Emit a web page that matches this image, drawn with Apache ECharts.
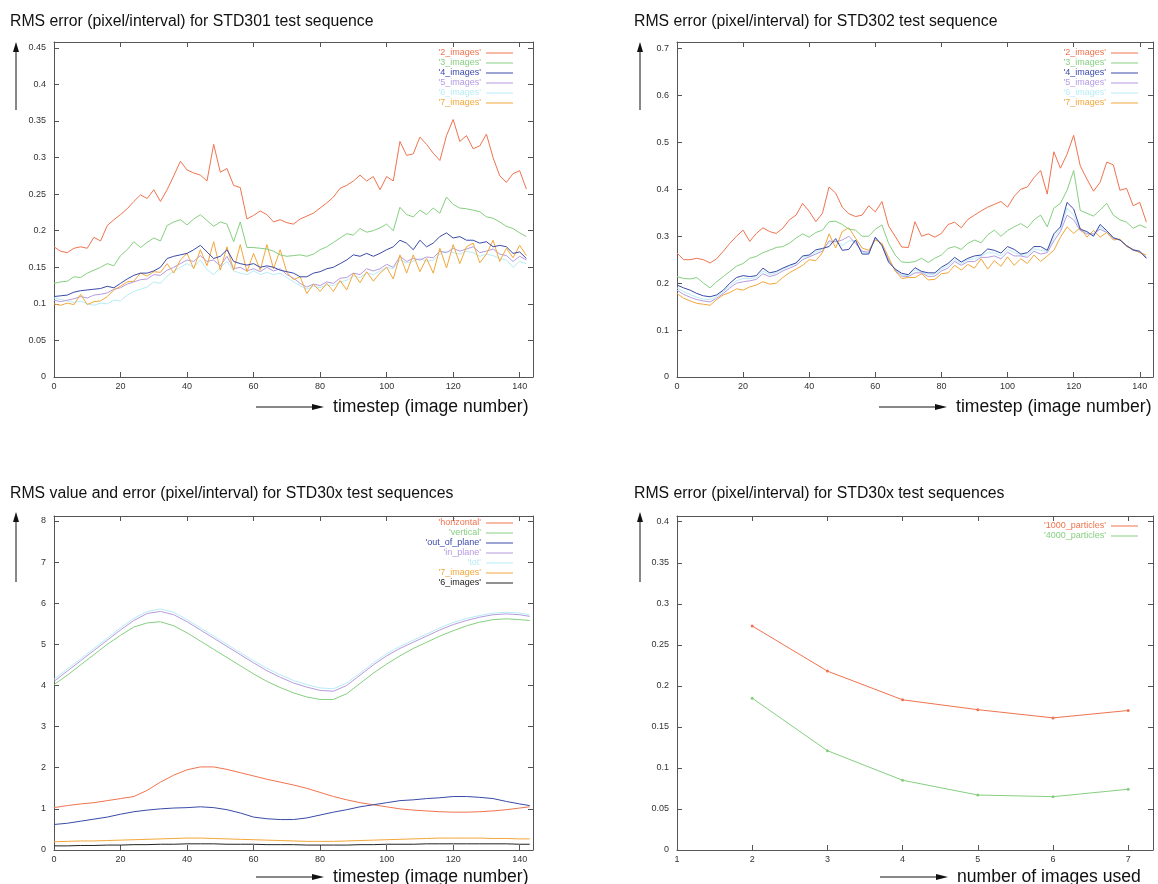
<!DOCTYPE html>
<html><head><meta charset="utf-8">
<script src="https://cdn.jsdelivr.net/npm/echarts@6/dist/echarts.min.js"></script>
<style>html,body{margin:0;padding:0;background:#fff}#c{width:1158px;height:884px}</style>
</head><body><div id="c"></div>
<script>
// ---- DATA ----
const steps = [0,2,4,6,8,10,12,14,16,18,20,22,24,26,28,30,32,34,36,38,40,42,44,46,48,50,52,54,56,58,60,62,64,66,68,70,72,74,76,78,80,82,84,86,88,90,92,94,96,98,100,102,104,106,108,110,112,114,116,118,120,122,124,126,128,130,132,134,136,138,140,142];
const seriesNamesA = ["'2_images'","'3_images'","'4_images'","'5_images'","'6_images'","'7_images'"];
// STD301
const s301_2 = [0.178,0.172,0.170,0.176,0.178,0.176,0.191,0.186,0.207,0.215,0.222,0.230,0.240,0.249,0.244,0.256,0.240,0.256,0.275,0.295,0.283,0.279,0.276,0.268,0.318,0.280,0.285,0.262,0.259,0.216,0.221,0.227,0.222,0.212,0.215,0.211,0.209,0.216,0.220,0.224,0.231,0.238,0.246,0.258,0.262,0.268,0.276,0.268,0.274,0.256,0.274,0.268,0.322,0.303,0.305,0.328,0.318,0.306,0.296,0.330,0.352,0.322,0.330,0.312,0.316,0.332,0.300,0.275,0.266,0.278,0.282,0.257];
const s301_3 = [0.128,0.130,0.131,0.137,0.136,0.142,0.146,0.150,0.155,0.152,0.166,0.174,0.185,0.177,0.184,0.190,0.186,0.207,0.212,0.215,0.208,0.216,0.222,0.214,0.206,0.212,0.209,0.185,0.212,0.177,0.177,0.176,0.175,0.172,0.167,0.165,0.166,0.167,0.165,0.168,0.174,0.178,0.184,0.190,0.196,0.194,0.203,0.198,0.200,0.204,0.209,0.200,0.232,0.222,0.219,0.228,0.222,0.231,0.224,0.246,0.236,0.231,0.230,0.228,0.226,0.219,0.217,0.212,0.206,0.203,0.197,0.192];
const s301_4 = [0.110,0.111,0.112,0.116,0.118,0.119,0.120,0.121,0.124,0.122,0.128,0.134,0.139,0.142,0.142,0.145,0.150,0.162,0.165,0.167,0.169,0.174,0.180,0.171,0.162,0.165,0.174,0.158,0.155,0.153,0.155,0.150,0.152,0.150,0.146,0.144,0.142,0.137,0.137,0.142,0.144,0.148,0.150,0.155,0.160,0.167,0.165,0.169,0.165,0.169,0.174,0.178,0.187,0.183,0.174,0.187,0.178,0.183,0.192,0.197,0.190,0.192,0.187,0.187,0.183,0.185,0.178,0.180,0.178,0.169,0.171,0.162];
const s301_5 = [0.105,0.103,0.105,0.107,0.110,0.108,0.112,0.113,0.115,0.120,0.122,0.127,0.130,0.133,0.134,0.140,0.139,0.146,0.150,0.155,0.160,0.158,0.166,0.158,0.160,0.152,0.165,0.148,0.150,0.145,0.148,0.144,0.150,0.145,0.148,0.140,0.135,0.128,0.123,0.127,0.125,0.130,0.128,0.135,0.136,0.142,0.140,0.148,0.145,0.148,0.154,0.150,0.165,0.158,0.162,0.160,0.164,0.163,0.172,0.170,0.176,0.172,0.175,0.178,0.170,0.172,0.175,0.168,0.166,0.158,0.165,0.160];
const s301_6 = [0.108,0.106,0.104,0.102,0.104,0.100,0.098,0.101,0.100,0.105,0.104,0.112,0.117,0.120,0.123,0.130,0.128,0.138,0.145,0.150,0.155,0.150,0.160,0.147,0.140,0.150,0.158,0.145,0.142,0.140,0.145,0.140,0.143,0.140,0.142,0.136,0.130,0.125,0.120,0.124,0.122,0.126,0.125,0.130,0.132,0.138,0.136,0.142,0.140,0.145,0.150,0.148,0.160,0.156,0.158,0.162,0.158,0.160,0.168,0.172,0.170,0.168,0.172,0.170,0.165,0.168,0.166,0.162,0.160,0.150,0.158,0.155];
const s301_7 = [0.100,0.098,0.101,0.099,0.113,0.099,0.103,0.104,0.110,0.119,0.124,0.130,0.131,0.142,0.138,0.144,0.143,0.155,0.142,0.160,0.169,0.148,0.174,0.152,0.185,0.146,0.178,0.146,0.181,0.144,0.169,0.146,0.181,0.148,0.174,0.143,0.133,0.137,0.114,0.127,0.117,0.128,0.117,0.132,0.119,0.142,0.129,0.144,0.131,0.142,0.150,0.134,0.167,0.142,0.167,0.144,0.162,0.142,0.176,0.149,0.181,0.155,0.178,0.183,0.156,0.168,0.187,0.158,0.176,0.163,0.180,0.166];
// STD302
const s302_2 = [0.264,0.250,0.250,0.253,0.250,0.243,0.252,0.268,0.285,0.300,0.313,0.289,0.306,0.318,0.310,0.306,0.317,0.335,0.345,0.370,0.353,0.331,0.349,0.405,0.392,0.362,0.348,0.342,0.345,0.365,0.352,0.374,0.322,0.300,0.277,0.276,0.331,0.300,0.305,0.298,0.306,0.325,0.330,0.318,0.336,0.345,0.354,0.362,0.368,0.374,0.362,0.385,0.400,0.405,0.425,0.440,0.390,0.480,0.445,0.475,0.515,0.450,0.422,0.396,0.415,0.458,0.452,0.398,0.402,0.365,0.372,0.330];
const s302_3 = [0.214,0.210,0.209,0.212,0.200,0.190,0.203,0.214,0.225,0.236,0.242,0.253,0.257,0.265,0.270,0.276,0.278,0.285,0.296,0.305,0.298,0.308,0.313,0.331,0.332,0.325,0.315,0.313,0.300,0.300,0.315,0.324,0.285,0.260,0.245,0.244,0.246,0.253,0.244,0.253,0.260,0.274,0.278,0.272,0.285,0.292,0.286,0.303,0.313,0.300,0.312,0.320,0.327,0.318,0.335,0.345,0.320,0.360,0.370,0.398,0.440,0.355,0.349,0.343,0.356,0.370,0.345,0.335,0.330,0.317,0.324,0.318];
const s302_4 = [0.196,0.190,0.185,0.178,0.173,0.171,0.175,0.185,0.200,0.212,0.216,0.214,0.216,0.232,0.222,0.225,0.232,0.238,0.243,0.258,0.260,0.271,0.274,0.278,0.295,0.270,0.272,0.292,0.262,0.262,0.298,0.280,0.245,0.230,0.221,0.218,0.233,0.225,0.222,0.222,0.234,0.242,0.255,0.245,0.253,0.258,0.260,0.273,0.270,0.264,0.278,0.272,0.262,0.265,0.278,0.278,0.270,0.305,0.320,0.372,0.358,0.315,0.310,0.300,0.325,0.312,0.297,0.292,0.280,0.271,0.268,0.253];
const s302_5 = [0.185,0.176,0.170,0.165,0.162,0.160,0.168,0.178,0.190,0.200,0.203,0.205,0.208,0.220,0.214,0.218,0.226,0.232,0.238,0.250,0.256,0.262,0.268,0.290,0.288,0.292,0.300,0.285,0.268,0.266,0.296,0.282,0.250,0.228,0.215,0.214,0.222,0.222,0.214,0.215,0.226,0.232,0.246,0.238,0.246,0.246,0.255,0.255,0.258,0.252,0.266,0.258,0.258,0.255,0.268,0.262,0.265,0.290,0.310,0.345,0.335,0.312,0.305,0.305,0.315,0.308,0.295,0.292,0.280,0.270,0.266,0.255];
const s302_6 = [0.190,0.182,0.176,0.170,0.166,0.165,0.172,0.182,0.195,0.205,0.210,0.210,0.212,0.226,0.218,0.222,0.230,0.236,0.242,0.255,0.258,0.266,0.272,0.285,0.290,0.280,0.290,0.290,0.265,0.264,0.297,0.282,0.248,0.230,0.218,0.216,0.228,0.224,0.218,0.219,0.230,0.237,0.250,0.242,0.250,0.252,0.258,0.265,0.264,0.258,0.272,0.265,0.260,0.260,0.273,0.270,0.268,0.298,0.315,0.360,0.345,0.314,0.308,0.302,0.320,0.310,0.296,0.292,0.280,0.270,0.267,0.254];
const s302_7 = [0.178,0.168,0.162,0.157,0.155,0.153,0.165,0.175,0.180,0.188,0.185,0.192,0.196,0.203,0.198,0.200,0.212,0.222,0.230,0.238,0.250,0.248,0.265,0.305,0.275,0.310,0.318,0.296,0.275,0.270,0.292,0.285,0.255,0.226,0.210,0.212,0.212,0.220,0.207,0.208,0.220,0.222,0.238,0.228,0.240,0.232,0.252,0.230,0.248,0.236,0.256,0.238,0.252,0.242,0.260,0.246,0.258,0.270,0.298,0.320,0.306,0.318,0.298,0.312,0.298,0.308,0.292,0.294,0.278,0.272,0.265,0.260];
// STD30x values
const stepsC = [0,4,8,12,16,20,24,28,32,36,40,44,48,52,56,60,64,68,72,76,80,84,88,92,96,100,104,108,112,116,120,124,128,132,136,140,143];
const seriesNamesC = ["'horizontal'","'vertical'","'out_of_plane'","'in_plane'","'tot'","'7_images'","'6_images'"];
const c_hor = [1.03,1.08,1.12,1.15,1.20,1.25,1.30,1.45,1.65,1.82,1.95,2.02,2.02,1.96,1.88,1.80,1.72,1.65,1.58,1.50,1.40,1.30,1.22,1.15,1.10,1.05,1.00,0.97,0.95,0.93,0.92,0.92,0.93,0.95,0.98,1.02,1.05];
const c_ver = [4.02,4.25,4.50,4.75,5.00,5.22,5.42,5.52,5.55,5.45,5.28,5.08,4.88,4.68,4.48,4.28,4.10,3.95,3.82,3.72,3.66,3.66,3.80,4.05,4.30,4.52,4.72,4.90,5.05,5.20,5.33,5.45,5.54,5.60,5.62,5.60,5.58];
const c_out = [0.62,0.65,0.70,0.75,0.80,0.87,0.93,0.97,1.00,1.02,1.03,1.05,1.03,0.98,0.90,0.80,0.76,0.74,0.74,0.78,0.85,0.92,0.98,1.05,1.10,1.15,1.20,1.22,1.25,1.27,1.30,1.30,1.28,1.25,1.18,1.12,1.08];
const c_inp = [4.10,4.35,4.60,4.85,5.10,5.35,5.58,5.75,5.80,5.72,5.55,5.35,5.15,4.95,4.75,4.55,4.36,4.20,4.06,3.96,3.88,3.86,4.00,4.25,4.50,4.72,4.90,5.05,5.20,5.35,5.48,5.58,5.66,5.72,5.74,5.72,5.68];
const c_tot = [4.15,4.40,4.65,4.90,5.15,5.40,5.63,5.80,5.86,5.78,5.60,5.40,5.20,5.00,4.80,4.60,4.42,4.26,4.12,4.02,3.94,3.92,4.06,4.30,4.55,4.77,4.95,5.10,5.25,5.40,5.53,5.63,5.70,5.76,5.78,5.76,5.72];
const c_7 = [0.20,0.21,0.22,0.22,0.23,0.24,0.25,0.26,0.27,0.28,0.29,0.29,0.28,0.27,0.26,0.25,0.24,0.23,0.22,0.21,0.21,0.21,0.22,0.23,0.24,0.25,0.26,0.27,0.28,0.29,0.29,0.29,0.29,0.28,0.28,0.27,0.27];
const c_6 = [0.10,0.10,0.11,0.11,0.12,0.12,0.13,0.13,0.14,0.14,0.15,0.15,0.15,0.14,0.14,0.14,0.13,0.13,0.13,0.12,0.12,0.12,0.12,0.13,0.13,0.14,0.14,0.14,0.15,0.15,0.15,0.15,0.15,0.15,0.15,0.14,0.14];
// number of images
const imagesUsed = [2,3,4,5,6,7];
const p1000 = [0.273,0.218,0.183,0.171,0.161,0.170];
const p4000 = [0.185,0.121,0.085,0.067,0.065,0.074];
const seriesNamesD = ["'1000_particles'","'4000_particles'"];
// ---- STYLE ----
const colorsA = ['#f0734f','#86cf80','#3a4aa8','#b59be0','#b8ecf6','#f3a73a'];
const colorsC = ['#f0734f','#86cf80','#3a4aa8','#b59be0','#b8ecf6','#f3a73a','#222222'];
const FONT = 'Liberation Sans, Arial, Helvetica, sans-serif';
const grids = [
  {left:54, top:42, width:479, height:335},
  {left:677, top:42, width:476, height:335},
  {left:54, top:516, width:479, height:334},
  {left:677, top:516, width:476, height:334}
];
const axisRanges = [
  {xmin:0,xmax:144,xint:20,ymin:0,ymax:0.458,yint:0.05},
  {xmin:0,xmax:144,xint:20,ymin:0,ymax:0.714,yint:0.1},
  {xmin:0,xmax:144,xint:20,ymin:0,ymax:8.12,yint:1},
  {xmin:1,xmax:7.33,xint:1,ymin:0,ymax:0.407,yint:0.05}
];
const xAxes=[], yAxes=[];
axisRanges.forEach((r,i)=>{
  const common = {gridIndex:i, type:'value', splitLine:{show:false},
    axisLine:{show:true, onZero:false, lineStyle:{color:'#555', width:1}},
    axisTick:{show:true, inside:true, length:5, lineStyle:{color:'#555'}}};
  xAxes.push(Object.assign({}, common, {position:'bottom', min:r.xmin, max:r.xmax, interval:r.xint,
    axisLabel:{show:true, showMaxLabel:false, color:'#333', fontSize:9, fontFamily:FONT, margin:5}}));
  xAxes.push(Object.assign({}, common, {position:'top', min:r.xmin, max:r.xmax, interval:r.xint, axisLabel:{show:false}}));
  yAxes.push(Object.assign({}, common, {position:'left', min:r.ymin, max:r.ymax, interval:r.yint,
    axisLabel:{show:true, showMaxLabel:false, color:'#333', fontSize:9, fontFamily:FONT, margin:8}}));
  yAxes.push(Object.assign({}, common, {position:'right', min:r.ymin, max:r.ymax, interval:r.yint, axisLabel:{show:false}}));
});
function zip(xs, ys){ return ys.map((v,k)=>[xs[k], v]); }
const series = [];
function addLine(name, xs, ys, color, gi, extra){
  series.push(Object.assign({name, type:'line', xAxisIndex:gi*2, yAxisIndex:gi*2, data:zip(xs,ys),
    showSymbol:false, symbol:'none', lineStyle:{width:1, color}, itemStyle:{color}, silent:true, animation:false}, extra||{}));
}
const A1=[s301_2,s301_3,s301_4,s301_5,s301_6,s301_7];
const A2=[s302_2,s302_3,s302_4,s302_5,s302_6,s302_7];
[4,3,5,1,2,0].forEach(k=>{ addLine(seriesNamesA[k], steps, A1[k], colorsA[k], 0); });
[4,3,5,1,2,0].forEach(k=>{ addLine(seriesNamesA[k], steps, A2[k], colorsA[k], 1); });
const C=[c_hor,c_ver,c_out,c_inp,c_tot,c_7,c_6];
C.forEach((d,k)=>addLine(seriesNamesC[k], stepsC, d, colorsC[k], 2));
addLine(seriesNamesD[0], imagesUsed, p1000, colorsA[0], 3, {showSymbol:true, symbol:'circle', symbolSize:3});
addLine(seriesNamesD[1], imagesUsed, p4000, colorsA[1], 3, {showSymbol:true, symbol:'circle', symbolSize:3});

function legendFor(names, colors, right, top){
  return {orient:'vertical', right, top, align:'right', icon:'rect', itemWidth:27, itemHeight:1, itemGap:0,
    selectedMode:false, padding:0,
    textStyle:{fontSize:9, lineHeight:10, fontFamily:FONT, padding:[0,0,0,2]},
    data:names.map((n,k)=>({name:n, textStyle:{color:colors[k]}, itemStyle:{color:colors[k]}}))};
}
const legends = [
  legendFor(seriesNamesA, colorsA, 1158-513, 48),
  legendFor(seriesNamesA, colorsA, 1158-1138, 48),
  legendFor(seriesNamesC, colorsC, 1158-513, 518),
  legendFor(seriesNamesD, colorsA, 1158-1138, 521)
];

const titleStyle = {fontSize:15.8, fontWeight:'normal', color:'#111', fontFamily:FONT};
const titles = [
  {text:'RMS error (pixel/interval) for STD301 test sequence', left:10, top:14, padding:0, textStyle:titleStyle},
  {text:'RMS error (pixel/interval) for STD302 test sequence', left:634, top:14, padding:0, textStyle:titleStyle},
  {text:'RMS value and error (pixel/interval) for STD30x test sequences', left:10, top:486, padding:0, textStyle:titleStyle},
  {text:'RMS error (pixel/interval) for STD30x test sequences', left:634, top:486, padding:0, textStyle:titleStyle}
];
function xArrow(x0, y, label){
  return [
    {type:'line', shape:{x1:x0, y1:y, x2:x0+58, y2:y}, style:{stroke:'#111', lineWidth:1}},
    {type:'polygon', shape:{points:[[x0+56,y-3],[x0+68,y],[x0+56,y+3]]}, style:{fill:'#111'}},
    {type:'text', x:x0+77, y:y, style:{text:label, font:'17.6px '+FONT, fill:'#111', textVerticalAlign:'middle'}}
  ];
}
function yArrow(x, y0, y1){
  return [
    {type:'line', shape:{x1:x, y1:y0, x2:x, y2:y1+8}, style:{stroke:'#111', lineWidth:1}},
    {type:'polygon', shape:{points:[[x-3,y1+10],[x,y1],[x+3,y1+10]]}, style:{fill:'#111'}}
  ];
}
const graphics = [].concat(
  xArrow(256, 407, 'timestep (image number)'),
  xArrow(879, 407, 'timestep (image number)'),
  xArrow(256, 877, 'timestep (image number)'),
  xArrow(880, 877, 'number of images used'),
  yArrow(16, 110, 42), yArrow(640, 110, 42), yArrow(16, 582, 512), yArrow(640, 582, 512)
);
const chart = echarts.init(document.getElementById('c'), null, {renderer:'canvas'});
chart.setOption({
  backgroundColor:'#fff', animation:false,
  title:titles, grid:grids, xAxis:xAxes, yAxis:yAxes, series, legend:legends, graphic:graphics
});
</script></body></html>
